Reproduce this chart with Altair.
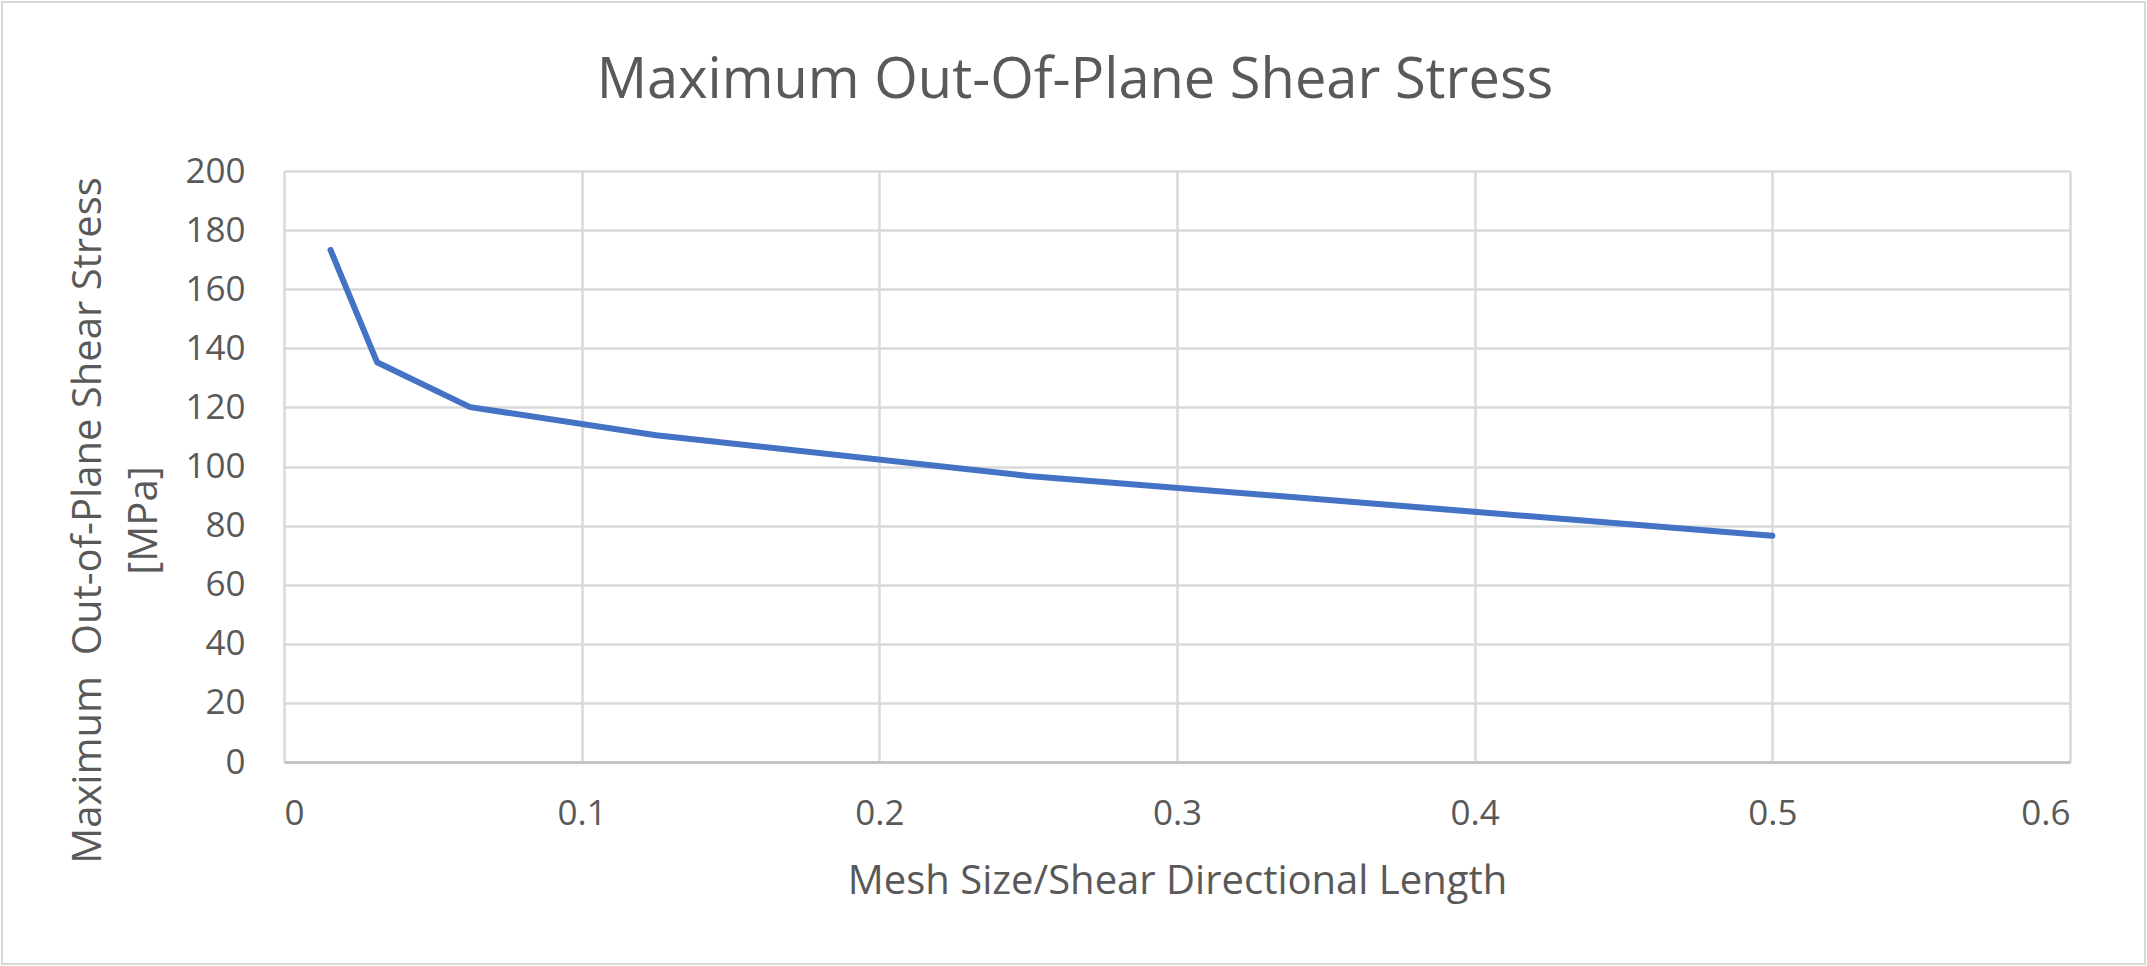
import altair as alt
import pandas as pd

mesh_ratio = [1/64, 1/32, 1/16, 1/8, 1/4, 1/2]
max_shear = [173.3, 135.3, 120.1, 110.6, 96.8, 76.6]
x_ticks = [0, 0.1, 0.2, 0.3, 0.4, 0.5, 0.6]
y_ticks = [0, 20, 40, 60, 80, 100, 120, 140, 160, 180, 200]

df = pd.DataFrame({"x": mesh_ratio, "y": max_shear})

FONT = "Open Sans"
TXT = "#595959"
W, H = 1786, 591
PL, PT = 284, 171

line = alt.Chart(df).mark_line(color="#4472C4", strokeWidth=6, strokeCap="round", strokeJoin="round").encode(
    x=alt.X("x:Q", scale=alt.Scale(domain=[0, 0.6], nice=False),
            axis=alt.Axis(values=x_ticks, format="~g", title="Mesh Size/Shear Directional Length",
                          grid=True, gridColor="#D9D9D9", gridWidth=2.5,
                          domain=True, domainColor="#BFBFBF", domainWidth=2.5,
                          ticks=False, labelPadding=34, labelFontSize=35, labelFont=FONT, labelColor=TXT,
                          titleFontSize=40, titleFont=FONT, titleColor=TXT, titleFontWeight="normal",
                          titleY=131, titleBaseline="alphabetic")),
    y=alt.Y("y:Q", scale=alt.Scale(domain=[0, 200], nice=False),
            axis=alt.Axis(values=y_ticks, title=["Maximum\u00a0 Out-of-Plane Shear Stress", "[MPa]"],
                          grid=True, gridColor="#D9D9D9", gridWidth=2.5,
                          domain=False, ticks=False, labelPadding=39, labelFontSize=35,
                          labelFont=FONT, labelColor=TXT,
                          titleFontSize=40, titleFont=FONT, titleColor=TXT, titleFontWeight="normal",
                          titleX=-184, titleY=349, titleAlign="center", titleBaseline="alphabetic",
                          titleLineHeight=56, titleAngle=270)),
)

frame = alt.Chart(pd.DataFrame({"a": [0]})).mark_rect(fill="transparent", stroke="#D9D9D9", strokeWidth=2).encode(
    x=alt.value(-PL + 2), x2=alt.value(2147 - PL - 2),
    y=alt.value(-PT + 2), y2=alt.value(966 - PT - 2),
)

chart = alt.layer(frame, line).properties(
    width=W, height=H,
    autosize=alt.AutoSizeParams(type="none"),
    padding={"left": PL, "top": PT, "right": 2147 - PL - W, "bottom": 966 - PT - H},
    background="white",
    title=alt.TitleParams(text="Maximum Out-Of-Plane Shear Stress", fontSize=56, font=FONT,
                          fontWeight="normal", color=TXT, anchor="middle", frame="group", dx=-102,
                          baseline="alphabetic", offset=0, dy=153),
).configure_view(stroke="transparent")

chart.save("out.html", embed_options={"renderer": "svg", "actions": False})
